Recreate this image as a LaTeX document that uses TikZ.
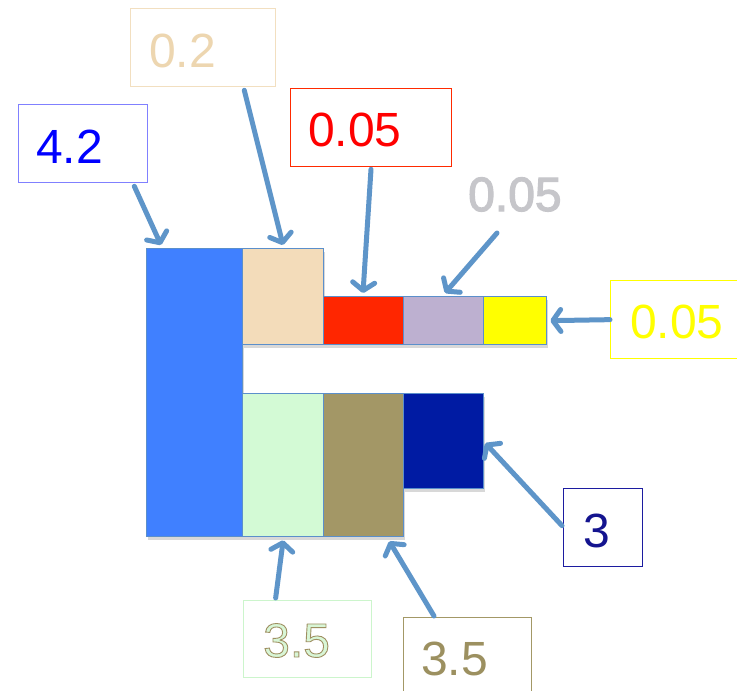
\documentclass[tikz,border=0pt]{standalone}
\usepackage{fontspec}
\setmainfont{Liberation Sans}
\usetikzlibrary{arrows.meta,calc,shadows}
\definecolor{arr}{HTML}{5E95C9}
\definecolor{barline}{HTML}{5B8FCB}
\definecolor{cblue}{HTML}{4080FF}
\definecolor{ctan}{HTML}{F3DCBA}
\definecolor{cred}{HTML}{FF2600}
\definecolor{clav}{HTML}{BDB0D0}
\definecolor{cyel}{HTML}{FFFF00}
\definecolor{clg}{HTML}{D3FAD5}
\definecolor{colive}{HTML}{A39766}
\definecolor{cnavy}{HTML}{001BA3}
\definecolor{b42}{HTML}{8080FF}
\definecolor{b02}{HTML}{F2DFC0}
\definecolor{b05}{HTML}{FF2A00}
\definecolor{b3}{HTML}{1C1CA0}
\definecolor{b35g}{HTML}{CCF5CC}
\definecolor{b35o}{HTML}{A39866}
\definecolor{t02c}{HTML}{EDD6B0}
\definecolor{tgray}{HTML}{C6C6CA}
\definecolor{t3c}{HTML}{14148F}
\definecolor{t35o}{HTML}{9C9060}
\definecolor{t35in}{HTML}{D8F6D6}
\newcommand{\strokedtext}[3]{\special{pdf:literal direct 2 Tr #2 w #3 RG}#1\special{pdf:literal direct 0 Tr}}
\begin{document}
\begin{tikzpicture}[x=1pt,y=-1pt,
  bar/.style={draw=barline, line width=1.3pt, anchor=north west, inner sep=0pt,
    drop shadow={opacity=0.3, shadow xshift=1pt, shadow yshift=-3pt}},
  lbox/.style={draw, line width=1.3pt, anchor=north west, inner sep=0pt, fill=white},
  num/.style={anchor=base west, inner sep=0pt, font=\fontsize{48}{48}\selectfont},
  conn/.style={draw=arr, line width=5pt, line cap=round,
    -{Straight Barb[length=8pt,width=22pt,line cap=round,line join=round]}}]
\clip (0,0) rectangle (737,691);
\fill[white] (0,0) rectangle (737,691);

% bars
\node[bar, fill=cblue, minimum width=96pt, minimum height=288pt] (blue) at (146,248) {};
\node[bar, fill=ctan, minimum width=81pt, minimum height=96pt] (tan) at (242,248) {};
\node[bar, fill=cred, minimum width=80pt, minimum height=48pt] (red) at (323,296) {};
\node[bar, fill=clav, minimum width=80pt, minimum height=48pt] (lav) at (403,296) {};
\node[bar, fill=cyel, minimum width=63pt, minimum height=48pt] (yel) at (483,296) {};
\node[bar, fill=clg, minimum width=81pt, minimum height=143pt] (lg) at (242,393) {};
\node[bar, fill=colive, minimum width=80pt, minimum height=143pt] (olive) at (323,393) {};
\node[bar, fill=cnavy, minimum width=80pt, minimum height=95pt] (navy) at (403,393) {};

% label boxes
\node[lbox, draw=b42, minimum width=129pt, minimum height=78pt] (l42) at (18,104) {};
\node[lbox, draw=b02, minimum width=145pt, minimum height=78pt] (l02) at (130,8) {};
\node[lbox, draw=b05, minimum width=161pt, minimum height=78pt] (l05r) at (290,88) {};
\node[lbox, draw=cyel, minimum width=140pt, minimum height=78pt] (l05y) at (610,280) {};
\node[lbox, draw=b3, minimum width=79pt, minimum height=78pt] (l3) at (563,488) {};
\node[lbox, draw=b35g, minimum width=128pt, minimum height=77pt] (l35g) at (243,600) {};
\node[lbox, draw=b35o, minimum width=128pt, minimum height=80pt] (l35o) at (403,617) {};

% texts
\node[num, text=blue] (t42) at (36,163) {4.2};
\node[num, text=t02c] (t02) at (149,67) {0.2};
\node[num, text=red] (t05r) at (308,146) {0.05};
\node[num, text=tgray] (t05g) at (468,211) {\strokedtext{0.05}{1.2}{0.776 0.776 0.792}};
\node[num, text=cyel] (t05y) at (630,338) {0.05};
\node[num, text=t3c] (t3) at (583,547) {3};
\node[num, text=t35in] (t35g) at (263,657) {\strokedtext{3.5}{0.9}{0.62 0.56 0.38}};
\node[num, text=t35o] (t35ot) at (421,675) {3.5};

% connectors
\draw[conn] ($(l42.south east)+(-14,3)$) -- ($(blue.north west)+(15,-3)$);
\draw[conn] ($(l02.south east)+(-32,3)$) -- ($(tan.north west)+(41,-3)$);
\draw[conn] ($(l05r.south west)+(81,2)$) -- ($(red.north west)+(40,-3)$);
\draw[conn] ($(t05g.base west)+(29,22)$) -- ($(lav.north west)+(42,-3)$);
\draw[conn] (l05y.west) -- ($(yel.east)+(3,0)$);
\draw[conn] ($(l3.west)+(-1,-2)$) -- ($(navy.east)+(1,2)$);
\draw[conn] ($(l35g.north)+(-32,-2)$) -- ($(lg.south)+(0,3)$);
\draw[conn] ($(l35o.north west)+(31,-1)$) -- ($(olive.south east)+(-15,4)$);
\end{tikzpicture}
\end{document}
